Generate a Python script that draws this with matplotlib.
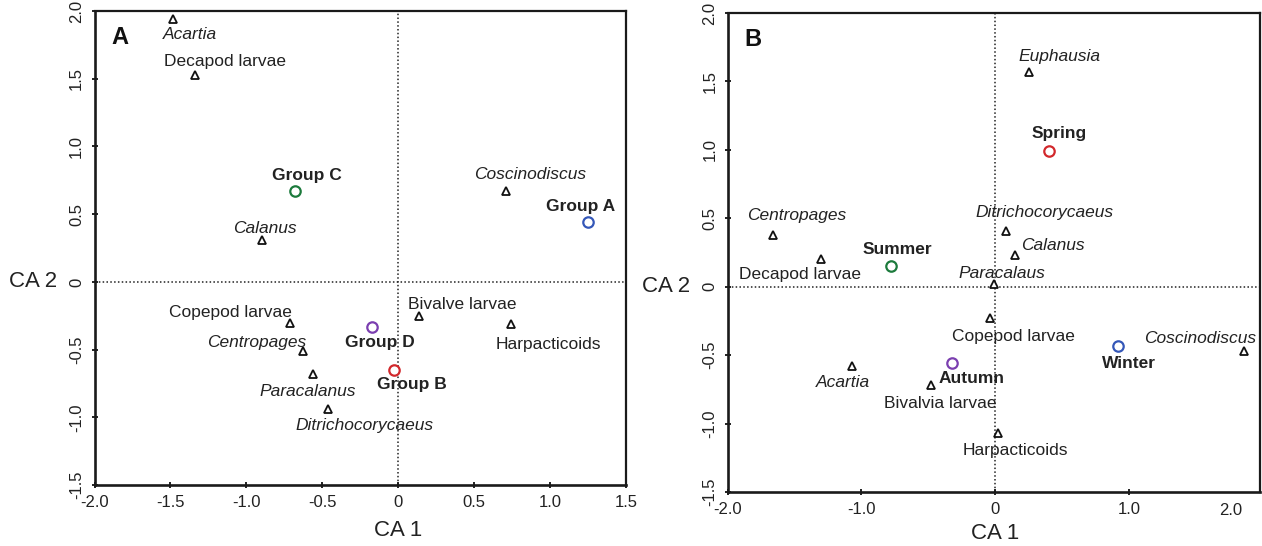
import matplotlib
matplotlib.use("Agg")
import matplotlib.pyplot as plt
import numpy as np

plt.rcParams['font.family'] = ['Liberation Sans', 'DejaVu Sans']

# ---------------- Data: panel A ----------------
a_species = ["Acartia", "Decapod larvae", "Calanus", "Coscinodiscus", "Copepod larvae",
             "Centropages", "Paracalanus", "Ditrichocorycaeus", "Bivalve larvae", "Harpacticoids"]
a_species_x = [-1.48, -1.34, -0.90, 0.71, -0.71, -0.63, -0.56, -0.46, 0.14, 0.74]
a_species_y = [1.94, 1.53, 0.31, 0.67, -0.30, -0.51, -0.68, -0.94, -0.25, -0.31]
a_species_italic = [True, False, True, True, False, True, True, True, False, False]

a_groups = ["Group C", "Group A", "Group D", "Group B"]
a_groups_x = [-0.68, 1.25, -0.17, -0.03]
a_groups_y = [0.67, 0.44, -0.33, -0.65]

# ---------------- Data: panel B ----------------
b_species = ["Euphausia", "Centropages", "Decapod larvae", "Ditrichocorycaeus", "Calanus",
             "Paracalaus", "Copepod larvae", "Coscinodiscus", "Acartia", "Bivalvia larvae",
             "Harpacticoids"]
b_species_x = [0.25, -1.66, -1.30, 0.08, 0.15, -0.01, -0.04, 1.86, -1.07, -0.48, 0.02]
b_species_y = [1.57, 0.38, 0.20, 0.41, 0.23, 0.02, -0.23, -0.47, -0.58, -0.72, -1.07]
b_species_italic = [True, True, False, True, True, True, False, True, True, False, False]

b_groups = ["Spring", "Summer", "Winter", "Autumn"]
b_groups_x = [0.40, -0.78, 0.92, -0.32]
b_groups_y = [0.99, 0.15, -0.43, -0.56]

group_colors_a = ["#1c7a3c", "#3457b8", "#7b3fb0", "#d2282c"]
group_colors_b = ["#d2282c", "#1c7a3c", "#3457b8", "#7b3fb0"]

# label offsets (pixels, right / up)
a_species_off = [(16, -15), (30, 13), (3, 11), (24, 17), (-60, 10), (-46, 8), (-5, -18),
                 (36, -16), (43, 11), (38, -21)]
a_groups_off = [(12, 16), (-7, 16), (7, -16), (18, -15)]
b_species_off = [(31, 15), (24, 19), (-21, -15), (39, 18), (38, 10), (8, 10), (24, -18),
                 (-44, 13), (-9, -16), (9, -18), (18, -17)]
b_groups_off = [(11, 18), (7, 17), (11, -18), (19, -15)]

TXT = "#222222"

fig = plt.figure(figsize=(12.62, 5.46), dpi=100)
axA = fig.add_axes([0.0749, 0.1117, 0.4211, 0.8681])
axB = fig.add_axes([0.5766, 0.0989, 0.4218, 0.8773])


def draw(ax, sp, sx, sy, sit, soff, gr, gx, gy, gcol, goff, xlim, xticks, xtl, letter, xlab_y):
    ax.set_xlim(*xlim)
    ax.set_ylim(-1.5, 2.0)
    ax.axvline(0, color="#222222", lw=1.1, ls=(0, (1, 1.5)), zorder=1)
    ax.axhline(0, color="#222222", lw=1.1, ls=(0, (1, 1.5)), zorder=1)
    ax.plot(sx, sy, linestyle="none", marker="^", markersize=6, markerfacecolor="white",
            markeredgecolor="#111111", markeredgewidth=1.3, zorder=3)
    for name, x, y, it, off in zip(sp, sx, sy, sit, soff):
        ax.annotate(name, (x, y), xytext=off, textcoords="offset pixels", ha="center",
                    va="center", fontsize=12.5, color=TXT,
                    style="italic" if it else "normal", zorder=4)
    for name, x, y, c, off in zip(gr, gx, gy, gcol, goff):
        ax.plot([x], [y], linestyle="none", marker="o", markersize=7.5,
                markerfacecolor="white", markeredgecolor=c, markeredgewidth=1.6, zorder=3)
        ax.annotate(name, (x, y), xytext=off, textcoords="offset pixels", ha="center",
                    va="center", fontsize=12.5, color=TXT, fontweight="bold", zorder=4)
    ax.set_xticks(xticks)
    ax.set_xticklabels(xtl)
    yt = [-1.5, -1.0, -0.5, 0, 0.5, 1.0, 1.5, 2.0]
    ax.set_yticks(yt)
    ax.set_yticklabels(["-1.5", "-1.0", "-0.5", "0", "0.5", "1.0", "1.5", "2.0"])
    ax.tick_params(direction="inout", length=5, width=1.3, labelsize=12,
                   colors="#111111", labelcolor=TXT, pad=5)
    for lab in ax.get_yticklabels():
        lab.set_rotation(90)
        lab.set_va("center")
    for s in ["left", "bottom"]:
        ax.spines[s].set_linewidth(1.9)
    for s in ["top", "right"]:
        ax.spines[s].set_linewidth(1.6)
    for s in ax.spines.values():
        s.set_color("#1a1a1a")
    ax.set_xlabel("CA 1", fontsize=16, color=TXT)
    ax.xaxis.label.set_va("center")
    ax.xaxis.set_label_coords(0, xlab_y, transform=ax.get_xaxis_transform())
    ax.set_ylabel("CA 2", fontsize=16, color=TXT, rotation=0, ha="center", va="center")
    ax.yaxis.set_label_coords(-0.115, 0, transform=ax.get_yaxis_transform())
    ax.text(0.047, 0.945, letter, transform=ax.transAxes, fontsize=17, fontweight="bold",
            color="#111111", ha="center", va="center")


draw(axA, a_species, a_species_x, a_species_y, a_species_italic, a_species_off,
     a_groups, a_groups_x, a_groups_y, group_colors_a, a_groups_off,
     (-2.0, 1.5), [-2.0, -1.5, -1.0, -0.5, 0, 0.5, 1.0, 1.5],
     ["-2.0", "-1.5", "-1.0", "-0.5", "0", "0.5", "1.0", "1.5"], "A", -0.097)

draw(axB, b_species, b_species_x, b_species_y, b_species_italic, b_species_off,
     b_groups, b_groups_x, b_groups_y, group_colors_b, b_groups_off,
     (-2.0, 1.98), [-2.0, -1.0, 0, 1.0],
     ["-2.0", "-1.0", "0", "1.0"], "B", -0.086)
# the "2.0" label sits at the cropped right edge of panel B without a tick mark
axB.text(1.76, -0.038, "2.0", transform=axB.get_xaxis_transform(), ha="center", va="center",
         fontsize=12, color=TXT)

fig.savefig("out.png", dpi=100)
